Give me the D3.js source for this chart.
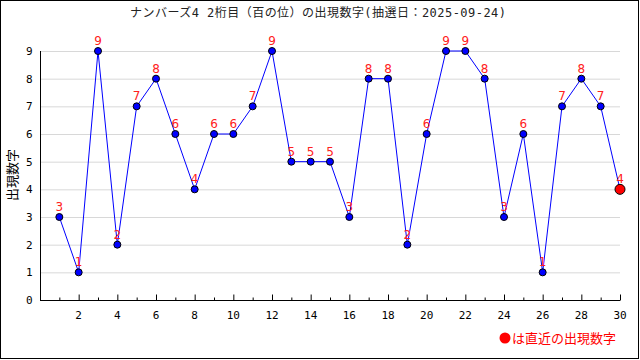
<!DOCTYPE html>
<html><head><meta charset="utf-8">
<script src="https://cdn.jsdelivr.net/npm/d3@7"></script>
<style>body{margin:0;background:#fff}svg{display:block}</style>
</head><body>
<svg id="c" width="640" height="360"></svg>
<script>
const draws = d3.range(1, 31);
const digits = [3,1,9,2,7,8,6,4,6,6,7,9,5,5,5,3,8,8,2,6,9,9,8,3,6,1,7,8,7,4];
const yTicks = [0,1,2,3,4,5,6,7,8,9];
const xTicks = [2,4,6,8,10,12,14,16,18,20,22,24,26,28,30];
const title = "ナンバーズ4 2桁目（百の位）の出現数字(抽選日：2025-09-24)";
const yLabel = "出現数字";
const legendText = "は直近の出現数字";

const svg = d3.select("#c");
const font = "'Noto Sans CJK JP', 'DejaVu Sans', sans-serif";
const monoFont = "'DejaVu Sans Mono', 'Noto Sans CJK JP', monospace";
svg.append("rect").attr("x",0.5).attr("y",0.5).attr("width",638).attr("height",358)
  .attr("fill","#fff").attr("stroke","#000");

const x = d3.scaleLinear().domain([0,30]).range([40,620]);
const y = d3.scaleLinear().domain([0,9]).range([300,51]);

// grid
svg.append("g").selectAll("line").data(yTicks.filter(d=>d>0)).join("line")
  .attr("x1",40).attr("x2",620).attr("y1",d=>y(d)+0.5).attr("y2",d=>y(d)+0.5)
  .attr("stroke","#d8d8d8");

// y axis
const ya = svg.append("g").attr("transform","translate(40.5,0)")
  .call(d3.axisLeft(y).tickValues(yTicks).tickSize(0).tickPadding(8));
ya.select(".domain").attr("stroke","#000").attr("d",`M0,${y(9)}V${y(0)+0.5}`);
ya.selectAll("text").attr("font-family","'DejaVu Sans Mono', monospace").attr("font-size",11).attr("fill","#000");

// x axis (ticks inside)
const xa = svg.append("g").attr("transform",`translate(0,${y(0)+0.5})`)
  .call(d3.axisTop(x).tickValues(draws).tickSize(6).tickFormat(""));
xa.select(".domain").remove();
xa.append("line").attr("x1",40).attr("x2",620).attr("stroke","#000");
xa.selectAll(".tick line").attr("y2",d=>d%2===0?-6:-3).attr("stroke","#000");
svg.append("g").selectAll("text").data(xTicks).join("text")
  .attr("x",d=>x(d)).attr("y",319).attr("text-anchor","middle")
  .attr("font-family","'DejaVu Sans Mono', monospace").attr("font-size",11).text(d=>d);

// line
svg.append("path").datum(digits)
  .attr("d", d3.line().x((d,i)=>x(draws[i])).y(d=>y(d)))
  .attr("fill","none").attr("stroke","#0000ff").attr("stroke-width",1);

// points
svg.append("g").selectAll("circle").data(digits).join("circle")
  .attr("cx",(d,i)=>x(draws[i])).attr("cy",d=>y(d))
  .attr("r",(d,i)=>i===digits.length-1?5:3.5)
  .attr("fill",(d,i)=>i===digits.length-1?"#ff0000":"#0000ff")
  .attr("stroke","#000").attr("stroke-width",1);

// labels
svg.append("g").selectAll("text").data(digits).join("text")
  .attr("x",(d,i)=>x(draws[i])).attr("y",d=>y(d)-6)
  .attr("text-anchor","middle").attr("fill","#ff2020")
  .attr("font-family","'DejaVu Sans', sans-serif").attr("font-size",12).text(d=>d);

// title
svg.append("text").attr("x",130).attr("y",17).attr("textLength",376).attr("lengthAdjust","spacing")
  .attr("font-family",monoFont).attr("font-size",12).attr("fill","#222").text(title);

// y label
svg.append("text").attr("transform","translate(17,175) rotate(-90)")
  .attr("text-anchor","middle").attr("font-family",font).attr("font-size",13).attr("fill","#000").text(yLabel);

// legend
svg.append("circle").attr("cx",505).attr("cy",338).attr("r",5.5).attr("fill","#ff0000");
svg.append("text").attr("x",512).attr("y",343).attr("font-family",font).attr("font-size",13)
  .attr("fill","#ff0000").text(legendText);
</script>
</body></html>
